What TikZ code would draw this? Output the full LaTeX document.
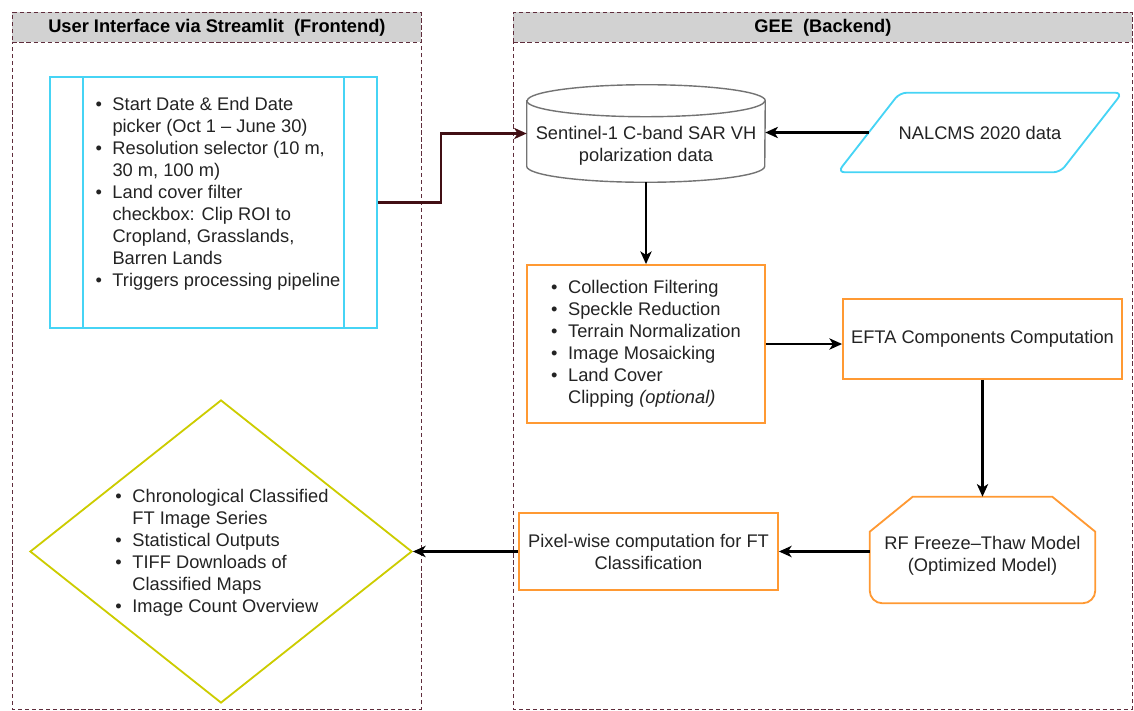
\documentclass[tikz,border=0pt]{standalone}
\usepackage{fontspec}
\setmainfont{Liberation Sans}
\usetikzlibrary{shapes.geometric, arrows.meta, calc}
\definecolor{uicyan}{RGB}{70,212,245}
\definecolor{procorange}{RGB}{255,153,51}
\definecolor{outyellow}{RGB}{204,204,0}
\definecolor{dbgray}{RGB}{115,115,115}
\definecolor{headgray}{RGB}{210,210,210}
\definecolor{laneborder}{RGB}{95,45,60}
\definecolor{linkbrown}{RGB}{65,15,20}
\definecolor{textgray}{RGB}{35,35,35}
\newcommand{\pxl}{0.025cm}
\newcommand{\blist}[1]{\begin{tabular}{@{}l@{\hspace{7.5pt}}l@{}}#1\end{tabular}}

\begin{document}
\begin{tikzpicture}[x=0.025cm, y=-0.025cm,
    font=\fontsize{13}{15.6}\selectfont, text=textgray,
    lane/.style={draw=laneborder, densely dashed, line width=0.6pt},
    lanehead/.style={lane, fill=headgray, anchor=north west, inner sep=0pt,
        font=\fontsize{13}{15.6}\selectfont\bfseries, text=black},
    proc/.style={draw=procorange, line width=1.3pt, align=center},
    flow/.style={-{Stealth[length=9pt, width=8pt, inset=2.5pt]}, line width=1.5pt}]
    \useasboundingbox (0,0) rectangle (1134,711);

    % Frontend lane
    \draw[lane] (12,12) rectangle (421,709);
    \node[lanehead, minimum width=409*\pxl, minimum height=30*\pxl] (fronthead) at (12,12)
        {User Interface via Streamlit\ \ (Frontend)};

    % Backend lane
    \draw[lane] (513,12) rectangle (1132,709);
    \node[lanehead, minimum width=619*\pxl, minimum height=30*\pxl] (backhead) at (513,12)
        {GEE\ \ (Backend)};

    % User inputs
    \node[draw=uicyan, line width=1.3pt, minimum width=327*\pxl, minimum height=251*\pxl] (ui) at (213.5,202.5) {};
    \draw[uicyan, line width=1.3pt] ($(ui.north west)+(34,0)$) -- ($(ui.south west)+(34,0)$);
    \draw[uicyan, line width=1.3pt] ($(ui.north east)+(-34,0)$) -- ($(ui.south east)+(-34,0)$);
    \node (uitext) at (218,194)
        {\blist{\textbullet & Start Date \& End Date\\
                & picker (Oct 1 -- June 30)\\
                \textbullet & Resolution selector (10 m,\\
                & 30 m, 100 m)\\
                \textbullet & Land cover filter\\
                & checkbox: Clip ROI to\\
                & Cropland, Grasslands,\\
                & Barren Lands\\
                \textbullet & Triggers processing pipeline}};

    % Data sources
    \node[minimum width=238*\pxl, minimum height=97*\pxl] (sentinel) at (646,133.5) {};
    \draw[dbgray, line width=1pt] ($(sentinel.north west)+(0,16)$) -- ($(sentinel.south west)+(0,-16)$)
        arc[start angle=180, end angle=0, x radius=119, y radius=16]
        -- ($(sentinel.north east)+(0,16)$)
        arc[start angle=0, end angle=-180, x radius=119, y radius=16] -- cycle;
    \draw[dbgray, line width=1pt] ($(sentinel.north west)+(0,16)$)
        arc[start angle=180, end angle=0, x radius=119, y radius=16];
    \node[align=center] (sentineltext) at (646,146) {Sentinel-1 C-band SAR VH\\polarization data};
    \node[minimum width=222*\pxl, minimum height=79*\pxl] (nalcms) at (980,132.5) {NALCMS 2020 data};
    \draw[uicyan, line width=1.3pt, rounded corners=5pt]
        ($(nalcms.north west)+(31,0)$) -- ($(nalcms.north east)+(31,0)$)
        -- ($(nalcms.south east)+(-31,0)$) -- ($(nalcms.south west)+(-31,0)$) -- cycle;

    % Processing chain
    \node[proc, minimum width=238*\pxl, minimum height=158*\pxl] (prep) at (646,344)
        {\blist{\textbullet & Collection Filtering\\
                \textbullet & Speckle Reduction\\
                \textbullet & Terrain Normalization\\
                \textbullet & Image Mosaicking\\
                \textbullet & Land Cover\\
                & Clipping \textit{(optional)}}};
    \node[proc, minimum width=279*\pxl, minimum height=80*\pxl] (efta) at (982.5,339)
        {EFTA Components Computation};
    \node[align=center, minimum width=225*\pxl, minimum height=94*\pxl] (rf) at (982.5,556)
        {RF Freeze--Thaw Model\\(Optimized Model)};
    \coordinate (rftop) at ($(rf.north)+(0,-12)$);
    \draw[procorange, line width=1.3pt] ($(rf.north west)+(43,-12)$) -- ($(rf.north east)+(-43,-12)$)
        -- ($(rf.north east)+(0,23)$) {[rounded corners=9pt] -- (rf.south east) -- (rf.south west)}
        -- ($(rf.north west)+(0,23)$) -- cycle;
    \node[proc, minimum width=259*\pxl, minimum height=77*\pxl] (pixel) at (648.5,551.5)
        {Pixel-wise computation for FT\\Classification};

    % Outputs
    \node[diamond, draw=outyellow, line width=1.3pt, minimum width=382*\pxl, minimum height=303*\pxl] (out) at (221,551.5) {};
    \node (outtext) at (222,553)
        {\blist{\textbullet & Chronological Classified\\
                & FT Image Series\\
                \textbullet & Statistical Outputs\\
                \textbullet & TIFF Downloads of\\
                & Classified Maps\\
                \textbullet & Image Count Overview}};

    % Connectors
    \draw[flow, linkbrown] (ui.east) -- ++(63,0) |- (sentinel.west);
    \draw[flow] (nalcms.west) -- (nalcms.west -| sentinel.east);
    \draw[flow] (sentinel.south) -- (prep.north);
    \draw[flow] (prep.east) -- (prep.east -| efta.west);
    \draw[flow] (efta.south) -- (rftop);
    \draw[flow] (rf.west |- pixel.east) -- (pixel.east);
    \draw[flow] (pixel.west) -- (pixel.west -| out.east);
\end{tikzpicture}
\end{document}
